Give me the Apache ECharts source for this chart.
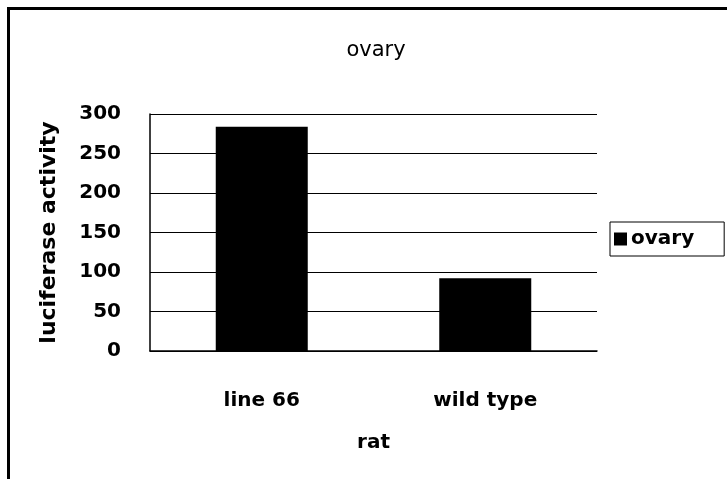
<!DOCTYPE html>
<html>
<head>
<meta charset="utf-8">
<script src="https://cdn.jsdelivr.net/npm/echarts@6/dist/echarts.min.js"></script>
<style>
  html, body { margin: 0; padding: 0; background: #fff; }
  #chart { width: 727px; height: 479px; }
</style>
</head>
<body>
<div id="chart"></div>
<script>
// data
const categories = ['line 66', 'wild type'];
const ovary = [284, 92];
const yTicks = [0, 50, 100, 150, 200, 250, 300];

const font = 'DejaVu Sans';
let myChart = echarts.init(document.getElementById('chart'));
myChart.setOption({
  animation: false,
  backgroundColor: '#fff',
  title: {
    text: 'ovary',
    left: 371,
    textAlign: 'center',
    top: 35,
    textStyle: { fontFamily: font, fontSize: 21, fontWeight: 'normal', color: '#000' }
  },
  legend: {
    data: ['ovary'],
    left: 610,
    top: 222,
    orient: 'vertical',
    icon: 'rect',
    itemWidth: 13,
    itemHeight: 13,
    borderColor: '#000',
    borderWidth: 1,
    borderRadius: 0,
    padding: [7, 30, 7, 4],
    textStyle: { fontFamily: font, fontSize: 20, fontWeight: 'bold', color: '#000', padding: [0, 0, 0, -1] }
  },
  grid: {
    left: 150,
    right: 130,
    top: 114,
    bottom: 128
  },
  graphic: [{
    type: 'rect',
    shape: { x: 8.5, y: 8.5, width: 740, height: 500 },
    style: { fill: 'none', stroke: '#000', lineWidth: 3 },
    silent: true
  }],
  xAxis: {
    type: 'category',
    data: categories,
    name: 'rat',
    nameLocation: 'middle',
    nameGap: 82,
    nameTextStyle: { fontFamily: font, fontSize: 20, fontWeight: 'bold', color: '#000' },
    axisLine: { lineStyle: { color: '#000', width: 1.5 } },
    axisTick: { inside: true, length: 6, lineStyle: { color: '#000' } },
    axisLabel: { margin: 40, fontFamily: font, fontSize: 20, fontWeight: 'bold', color: '#000' }
  },
  yAxis: {
    type: 'value',
    min: yTicks[0],
    max: yTicks[yTicks.length - 1],
    interval: 50,
    name: 'luciferase activity',
    nameLocation: 'middle',
    nameGap: 90,
    nameTextStyle: { fontFamily: font, fontSize: 22, fontWeight: 'bold', color: '#000' },
    axisLine: { show: true, lineStyle: { color: '#000', width: 1.5 } },
    axisTick: { show: false },
    splitLine: { lineStyle: { color: '#000', width: 1.2 } },
    axisLabel: { margin: 29, fontFamily: font, fontSize: 20, fontWeight: 'bold', color: '#000' }
  },
  series: [{
    name: 'ovary',
    type: 'bar',
    data: ovary,
    barWidth: 92,
    itemStyle: { color: '#000' }
  }]
});
</script>
</body>
</html>
